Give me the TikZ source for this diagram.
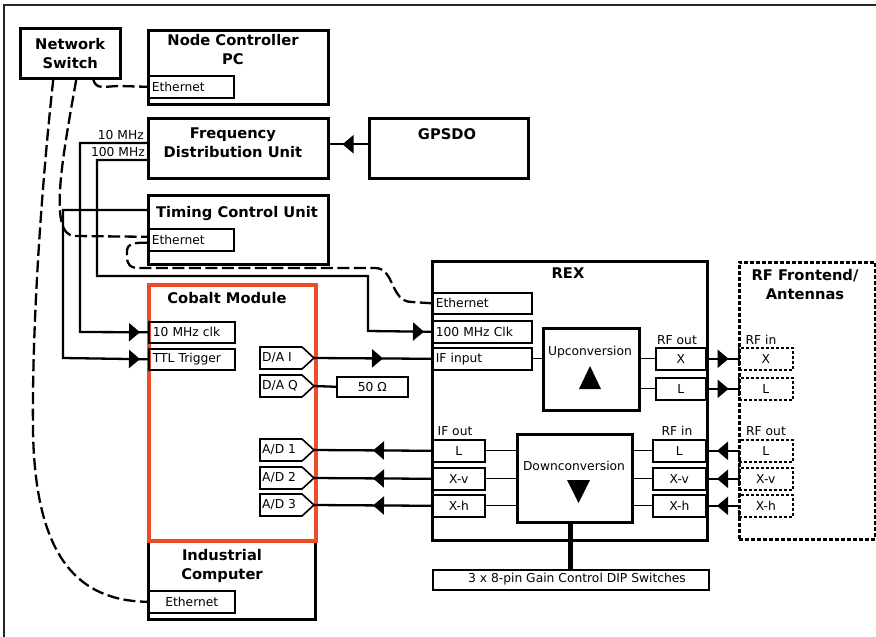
\documentclass[tikz,border=0pt]{standalone}
\usepackage{fontspec}
\setmainfont{DejaVu Sans}
\usetikzlibrary{arrows.meta,decorations.markings}
\definecolor{cobalt}{HTML}{EE4B2B}
\newcommand\smfont{\fontsize{12.3}{14}\selectfont}
\newcommand\ttlfont{\fontsize{14.7}{19}\selectfont\bfseries}
\newcommand\pentbox[4]{%
  \draw[line width=1.6pt, line join=miter] (#2,#3) -- ++(42,0) -- ++(12,11) -- ++(-12,11) -- ++(-42,0) -- cycle;
  \node[font=\smfont, inner sep=0pt, anchor=west] (#1) at (#2+2,#3+11) {#4};
  \coordinate (#1tip) at (#2+54,#3+11);}
\begin{document}
\begin{tikzpicture}[x=1pt,y=-1pt,
  box/.style={draw, line width=2.5pt, anchor=north west, inner sep=0pt},
  sub/.style={draw, line width=1.6pt, anchor=north west, inner ysep=0pt, inner xsep=4pt, font=\smfont},
  lsub/.style={sub, align=left, text width=#1},
  dsub/.style={sub, dash pattern=on 3pt off 2pt},
  title/.style={font=\ttlfont, align=center, inner sep=0pt},
  lab/.style={font=\smfont, inner sep=0pt},
  conn/.style={line width=2.3pt},
  thinl/.style={line width=1.2pt},
  eth/.style={line width=2.3pt, dash pattern=on 12pt off 4.5pt},
  arr/.style={postaction={decorate,decoration={markings,mark=at position #1 with {\arrow{Triangle[length=11pt,width=18pt]}}}}}
]
\useasboundingbox (0,0) rectangle (876,637);
\draw[line width=1.5pt, black!85] (4,637) -- (4,5) -- (876,5);

% top-left units
\node[box, minimum width=100pt, minimum height=50pt, font=\ttlfont, align=center] (ns) at (19,27) {Network\\Switch};

\node[box, minimum width=180pt, minimum height=74pt] (ncpc) at (147,29) {};
\node[title] (ncpcT) at (233,50) {Node Controller\\PC};
\node[lsub=78pt, minimum height=22pt] (ncEth) at (147,75) {Ethernet};

\node[box, minimum width=180pt, minimum height=60pt] (fdu) at (147,117) {};
\node[title] (fduT) at (233,143) {Frequency\\Distribution Unit};
\node[lab, anchor=east] (l10) at (144,135) {10 MHz};
\node[lab, anchor=east] (l100) at (145,152) {100 MHz};

\node[box, minimum width=159pt, minimum height=60pt] (gps) at (368,117) {};
\node[title] (gpsT) at (447,134) {GPSDO};

\node[box, minimum width=180pt, minimum height=69pt] (tcu) at (147,194) {};
\node[title] (tcuT) at (237,213) {Timing Control Unit};
\node[lsub=78pt, minimum height=22pt] (tcuEth) at (147,228) {Ethernet};

% industrial computer and cobalt module
\node[box, minimum width=167pt, minimum height=79pt] (ic) at (147,539) {};
\node[title] (icT) at (222,566) {Industrial\\Computer};
\node[sub, minimum width=86pt, minimum height=22pt] (icEth) at (148,590) {Ethernet};

\node[box, draw=cobalt, line width=4pt, minimum width=167pt, minimum height=256pt] (cob) at (147,283) {};
\node[title] (cobT) at (227,298) {Cobalt Module};
\node[lsub=78pt, minimum height=21pt] (clk10) at (148,321) {10 MHz clk};
\node[lsub=78pt, minimum height=21pt] (ttl) at (148,348) {TTL Trigger};
\pentbox{dai}{260}{347}{D/A I}
\pentbox{daq}{260}{375}{D/A Q}
\pentbox{ad1}{260}{439}{A/D 1}
\pentbox{ad2}{260}{467}{A/D 2}
\pentbox{ad3}{260}{494}{A/D 3}
\node[sub, minimum width=71pt, minimum height=20pt] (ohm) at (336,376) {50 Ω};

% REX
\node[box, minimum width=275pt, minimum height=279pt] (rex) at (431,260) {};
\node[title] (rexT) at (568,273) {REX};
\node[lsub=93pt, inner xsep=3pt, minimum height=21pt] (rexEth) at (432,292) {Ethernet};
\node[lsub=93pt, inner xsep=3pt, minimum height=22pt] (rexClk) at (432,320) {100 MHz Clk};
\node[lsub=93pt, inner xsep=3pt, minimum height=22pt] (ifin) at (432,347) {IF input};

\node[box, minimum width=96pt, minimum height=82pt] (up) at (542,327) {};
\node[lab] (upT) at (590,352) {Upconversion};
\fill (579,389) -- (601,389) -- (590,366) -- cycle;
\node[lab] (rfoutT) at (677,340) {RF out};
\node[sub, minimum width=50pt, minimum height=22pt] (rfoX) at (655,347) {X};
\node[sub, minimum width=50pt, minimum height=22pt] (rfoL) at (655,377) {L};

\node[box, minimum width=115pt, minimum height=88pt] (down) at (516,433) {};
\node[lab] (downT) at (574,466) {Downconversion};
\fill (567,480) -- (590,480) -- (578.5,503) -- cycle;
\node[lab] (ifoutT) at (455,431) {IF out};
\node[sub, minimum width=52pt, minimum height=22pt] (ifL) at (432,439) {L};
\node[sub, minimum width=52pt, minimum height=22pt] (ifXv) at (432,467) {X-v};
\node[sub, minimum width=52pt, minimum height=22pt] (ifXh) at (432,494) {X-h};
\node[lab] (rfinT) at (677,431) {RF in};
\node[sub, minimum width=53pt, minimum height=22pt] (rfiL) at (652,439) {L};
\node[sub, minimum width=53pt, minimum height=22pt] (rfiXv) at (652,467) {X-v};
\node[sub, minimum width=53pt, minimum height=22pt] (rfiXh) at (652,494) {X-h};

\node[sub, line width=2pt, minimum width=276pt, minimum height=20pt] (dip) at (432,569) {};
\node[lab] (dipT) at (577,579) {3 x 8-pin Gain Control DIP Switches};

% RF frontend
\node[box, dash pattern=on 4pt off 2pt, minimum width=136pt, minimum height=277pt] (fe) at (738,261) {};
\node[title] (feT) at (805,285) {RF Frontend/\\Antennas};
\node[lab] (feinT) at (761,340) {RF in};
\node[dsub, minimum width=54pt, minimum height=22pt] (feX) at (738,347) {X};
\node[dsub, minimum width=54pt, minimum height=22pt] (feL) at (738,377) {L};
\node[lab] (feoutT) at (766,431) {RF out};
\node[dsub, minimum width=54pt, minimum height=22pt] (feoL) at (738,439) {L};
\node[dsub, minimum width=54pt, minimum height=22pt] (feoXv) at (738,467) {X-v};
\node[dsub, minimum width=54pt, minimum height=22pt] (feoXh) at (738,494) {X-h};

% ethernet cables
\draw[eth] ([xshift=23pt]ns.south) .. controls +(3,11) and +(-15,0) .. (120,86) -- (ncEth.west);
\draw[eth] ([xshift=6pt]ns.south) .. controls (62,160) and (48,236) .. (75,236) -- ([yshift=3pt]tcuEth.west);
\draw[eth] ([xshift=-17pt]ns.south) .. controls (38,220) and (32,350) .. (33,430) .. controls (35,560) and (80,601) .. (icEth.west);
\draw[eth] ([yshift=-3pt]tcuEth.west) .. controls (125,242) and (127,248) .. (127,256) .. controls (127,265) and (130,268) .. (140,268) -- (375,268) .. controls (395,268) and (390,302) .. (412,302) -- (rexEth.west);

% clocks and trigger
\draw[conn, arr=-8pt] ([yshift=-26pt]fdu.north west) -| (80,332) -- (clk10.west);
\draw[conn, arr=-8pt] ([yshift=-16pt]tcu.north west) -| (63,358) -- (ttl.west);
\draw[conn, arr=-8pt] ([yshift=-43pt]fdu.north west) -| (97,276) -| (368,331) -- (rexClk.west);
\draw[conn, arr=-13pt] ([yshift=4pt]gps.west) -- ([yshift=4pt]fdu.east);

% signal paths
\draw[conn, arr=69pt] (daitip) -- (ifin.west);
\draw[conn] (daqtip) -- (ohm.west);
\draw[conn, arr=59pt] (ifL.west) -- (ad1tip);
\draw[conn, arr=59pt] (ifXv.west) -- (ad2tip);
\draw[conn, arr=59pt] (ifXh.west) -- (ad3tip);
\draw[conn, arr=22pt] (rfoX.east) -- (feX.west);
\draw[conn, arr=22pt] (rfoL.east) -- (feL.west);
\draw[conn, arr=21pt] (feoL.west) -- (rfiL.east);
\draw[conn, arr=21pt] (feoXv.west) -- (rfiXv.east);
\draw[conn, arr=21pt] (feoXh.west) -- (rfiXh.east);

% internal REX lines
\draw[thinl] (ifin.east) -- (ifin.east -| up.west);
\draw[thinl] (rfoX.west -| up.east) -- (rfoX.west);
\draw[thinl] (rfoL.west -| up.east) -- (rfoL.west);
\draw[thinl] (ifL.east) -- (ifL.east -| down.west);
\draw[thinl] (ifXv.east) -- (ifXv.east -| down.west);
\draw[thinl] (ifXh.east) -- (ifXh.east -| down.west);
\draw[thinl] (down.east |- rfiL.west) -- (rfiL.west);
\draw[thinl] (down.east |- rfiXv.west) -- (rfiXv.west);
\draw[thinl] (down.east |- rfiXh.west) -- (rfiXh.west);
\draw[line width=5pt] ([xshift=-4.5pt]down.south) -- ([xshift=-4.5pt]down.south |- dip.north);
\end{tikzpicture}
\end{document}
